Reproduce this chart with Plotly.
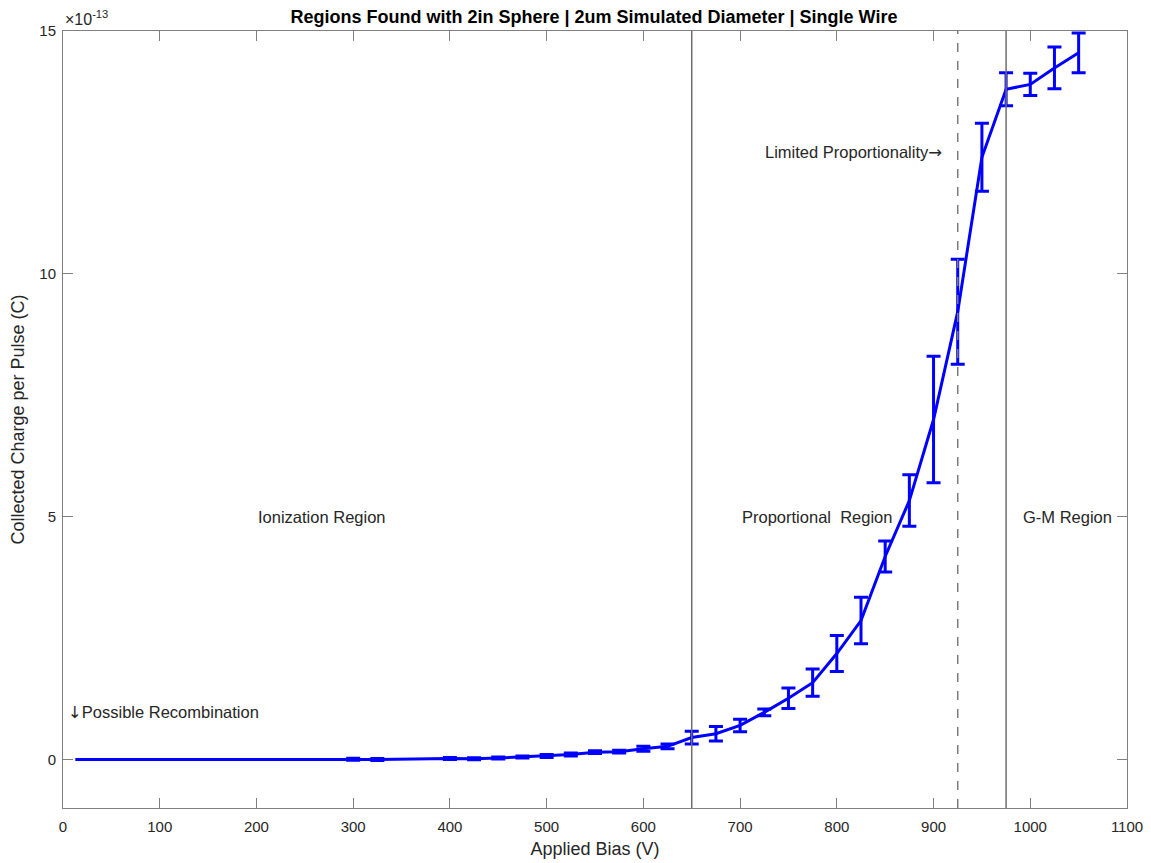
import plotly.graph_objects as go

# Applied bias (V) and collected charge per pulse (units of 1e-13 C)
bias_v = [20, 300, 325, 400, 425, 450, 475, 500, 525, 550, 575, 600, 625,
          650, 675, 700, 725, 750, 775, 800, 825, 850, 875, 900, 925,
          950, 975, 1000, 1025, 1050]
charge_e13 = [0.0, 0.005, 0.0, 0.02, 0.015, 0.03, 0.05, 0.07, 0.10, 0.15, 0.16, 0.22, 0.27,
              0.45, 0.53, 0.70, 0.97, 1.26, 1.58, 2.18, 2.86, 4.18, 5.33, 7.0, 9.22,
              12.4, 13.8, 13.9, 14.24, 14.55]
charge_err_e13 = [None, 0.02, 0.02, 0.02, 0.02, 0.02, 0.02, 0.03, 0.03, 0.03, 0.03, 0.05, 0.05,
                  0.13, 0.15, 0.13, 0.07, 0.21, 0.28, 0.37, 0.48, 0.32, 0.53, 1.3, 1.08,
                  0.7, 0.34, 0.23, 0.43, 0.41]

# Region boundaries (V)
boundary_solid = [650, 975]
boundary_dashed = [925]

ARROW = '<span style="font-family:DejaVu Sans">{}</span>'

# Region labels: (x, y, text)
region_labels = [
    (200, 5.0, "Ionization Region"),
    (700, 5.0, "Proportional  Region"),
    (990, 5.0, "G-M Region"),
    (724, 12.5, "Limited Proportionality" + ARROW.format("\u2192")),
    (3, 0.97, ARROW.format("\u2193") + "Possible Recombination"),
]

x_ticks = list(range(0, 1101, 100))
y_ticks = [0, 5, 10, 15]

text_color = "#262626"
axis_color = "#808080"
font_family = "Liberation Sans, Arial, sans-serif"

fig = go.Figure()

fig.add_trace(go.Scatter(
    x=bias_v, y=charge_e13, mode="lines",
    line=dict(color="#0000ff", width=3),
    error_y=dict(type="data", array=charge_err_e13, visible=True,
                 color="#0000ff", thickness=3, width=7),
    showlegend=False,
))

for xv in boundary_solid:
    fig.add_vline(x=xv, line=dict(color="#6e6e6e", width=1.5))
for xv in boundary_dashed:
    fig.add_vline(x=xv, line=dict(color="#7a7a7a", width=1.5, dash="dash"))

for lx, ly, txt in region_labels:
    fig.add_annotation(x=lx, y=ly, text=txt, showarrow=False,
                       xanchor="left", yanchor="middle",
                       font=dict(size=16.5, color=text_color, family=font_family))

# Axis exponent marker
fig.add_annotation(xref="paper", yref="paper", x=0, y=1, yshift=1,
                   text="\u00d710<sup>-13</sup>", showarrow=False,
                   xanchor="left", yanchor="bottom",
                   font=dict(size=16, color=text_color, family=font_family))

axis_common = dict(
    showgrid=False, zeroline=False, showline=True, linecolor=axis_color,
    linewidth=1, mirror="ticks", ticks="inside", ticklen=10, tickwidth=1,
    tickcolor=axis_color, automargin=False,
    tickfont=dict(size=15, color=text_color, family=font_family),
)

fig.update_layout(
    width=1151, height=863,
    margin=dict(l=63, r=24, t=31, b=55),
    paper_bgcolor="white", plot_bgcolor="white",
    title=dict(text="<b>Regions Found with 2in Sphere | 2um Simulated Diameter | Single Wire</b>",
               x=0.516, xanchor="center", y=0.981, yanchor="middle",
               font=dict(size=18, color="#000000", family=font_family)),
    xaxis=dict(range=[0, 1100], tickvals=x_ticks, ticklabelstandoff=5,
               title=dict(text="Applied Bias (V)", standoff=8,
                          font=dict(size=18, color=text_color, family=font_family)),
               **axis_common),
    yaxis=dict(range=[-1, 15], tickvals=y_ticks, ticklabelstandoff=3,
               title=dict(text="Collected Charge per Pulse (C)", standoff=10,
                          font=dict(size=18, color=text_color, family=font_family)),
               **axis_common),
)

fig.write_html("out.html")
